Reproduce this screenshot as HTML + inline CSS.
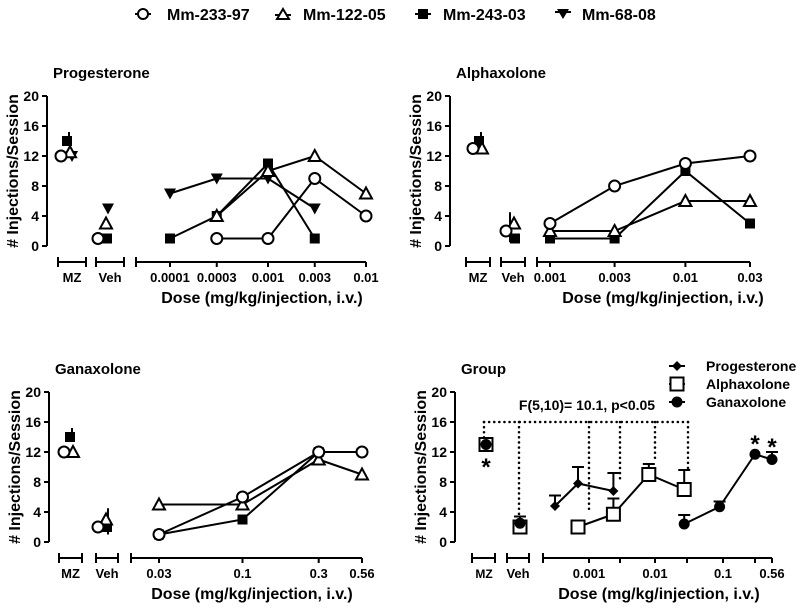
<!DOCTYPE html>
<html><head><meta charset="utf-8"><style>
html,body{margin:0;padding:0;background:#fff;}
svg{display:block;font-family:"Liberation Sans",Arial,sans-serif;font-weight:bold;}
</style></head><body>
<svg id="c" width="800" height="611" viewBox="0 0 800 611" xmlns="http://www.w3.org/2000/svg">
<g id="legend">
<g><line x1="135" y1="14" x2="151" y2="14" stroke="#000" stroke-width="2"/><circle cx="143" cy="14" r="5" fill="#fff" stroke="#000" stroke-width="2"/><text x="167" y="20" font-size="16">Mm-233-97</text></g>
<g><line x1="275" y1="15" x2="291" y2="15" stroke="#000" stroke-width="2"/><path d="M283,9 L289,19 L277,19Z" fill="#fff" stroke="#000" stroke-width="2"/><text x="303" y="20" font-size="16">Mm-122-05</text></g>
<g><line x1="415" y1="14" x2="431" y2="14" stroke="#000" stroke-width="2"/><rect x="418" y="9" width="10" height="10" fill="#000"/><text x="443" y="20" font-size="16">Mm-243-03</text></g>
<g><line x1="555" y1="12" x2="571" y2="12" stroke="#000" stroke-width="2"/><path d="M557,9 L569,9 L563,19Z" fill="#000"/><text x="582" y="20" font-size="16">Mm-68-08</text></g>
</g>
</svg>
<script>
// ---------- data ----------
const progDoses=[0.0001,0.0003,0.001,0.003,0.01];
const progDoseLabels=["0.0001","0.0003","0.001","0.003","0.01"];
const progCircle=[null,1,1,9,4];
const progTri=[null,4,10,12,7];
const progSquare=[1,4,11,1,null];
const progDown=[7,9,9,5,null];
const progMZ=[12,12.5,14,12];
const progVeh=[1,3,1,5];

const alphDoses=[0.001,0.003,0.01,0.03];
const alphDoseLabels=["0.001","0.003","0.01","0.03"];
const alphCircle=[3,8,11,12];
const alphTri=[2,2,6,6];
const alphSquare=[1,1,10,3];
const alphDown=[null,null,null,null];
const alphMZ=[13,13,14,null];
const alphVeh=[2,3,1,null];

const ganDoses=[0.03,0.1,0.3,0.56];
const ganDoseLabels=["0.03","0.1","0.3","0.56"];
const ganCircle=[1,6,12,12];
const ganTri=[5,5,11,9];
const ganSquare=[1,3,12,null];
const ganDown=[null,null,null,null];
const ganMZ=[12,12,14,null];
const ganVeh=[2,3,2,null];

const yTicks=[0,4,8,12,16,20];

// group panel (ordinal dose positions)
const groupTickLabels=["","0.001","","0.01","","0.1","","0.56"];
const grpProgIdx=[0.35,1,2];
const grpProgMean=[4.8,7.8,6.8];
const grpProgErr=[1.4,2.2,2.4];
const grpAlphIdx=[1,2,3,4];
const grpAlphMean=[2,3.7,9,7];
const grpAlphErr=[0,2.1,1.4,2.6];
const grpGanIdx=[4,5,6,6.5];
const grpGanMean=[2.4,4.7,11.7,11];
const grpGanErr=[1.2,0.7,0,1];
const grpMZ=[13,13];
const grpVeh=[2,2.5];
const grpVehErr=[0,0.9];

// ---------- drawing ----------
const svg=document.getElementById('c');
const NS='http://www.w3.org/2000/svg';
function el(tag,attrs,parent){const e=document.createElementNS(NS,tag);for(const k in attrs)e.setAttribute(k,attrs[k]);(parent||svg).appendChild(e);return e;}
function txt(x,y,s,size,anchor,parent){const t=el('text',{x:x,y:y,'font-size':size,'text-anchor':anchor||'start'},parent);t.textContent=s;return t;}
function marker(type,x,y,p){
  let m;
  if(type==='circle')m=el('circle',{cx:x,cy:y,r:5.5,fill:'#fff',stroke:'#000','stroke-width':2},p);
  else if(type==='tri')m=el('path',{d:`M${x},${y-6} L${x+6},${y+5} L${x-6},${y+5}Z`,fill:'#fff',stroke:'#000','stroke-width':2},p);
  else if(type==='square')m=el('rect',{x:x-5,y:y-5,width:10,height:10,fill:'#000'},p);
  else if(type==='down')m=el('path',{d:`M${x-6},${y-5} L${x+6},${y-5} L${x},${y+6}Z`,fill:'#000'},p);
  else if(type==='diamond')m=el('path',{d:`M${x},${y-5} L${x+5},${y} L${x},${y+5} L${x-5},${y}Z`,fill:'#000'},p);
  else if(type==='osquare')m=el('rect',{x:x-6.5,y:y-6.5,width:13,height:13,fill:'#fff',stroke:'#000','stroke-width':2},p);
  else if(type==='fcircle')m=el('circle',{cx:x,cy:y,r:5.5,fill:'#000'},p);
  
  
  return m;
}
function axisY(g,ax,y0,y1){
  const ys=v=>y0-(v/20)*(y0-y1);
  el('line',{x1:ax,y1:y1,x2:ax,y2:y0,stroke:'#000','stroke-width':2},g);
  yTicks.forEach(v=>{el('line',{x1:ax-5,y1:ys(v),x2:ax,y2:ys(v),stroke:'#000','stroke-width':2},g);txt(ax-8,ys(v)+5,String(v),14,'end',g);});
  const t=txt(0,0,'# Injections/Session',16,'middle',g);
  t.setAttribute('transform',`translate(${ax-29},${(y0+y1)/2}) rotate(-90)`);
  
  return ys;
}
function seg(g,a,b,y){el('line',{x1:a,y1:y,x2:b,y2:y,stroke:'#000','stroke-width':2},g);el('line',{x1:a,y1:y-5,x2:a,y2:y+5,stroke:'#000','stroke-width':2},g);el('line',{x1:b,y1:y-5,x2:b,y2:y+5,stroke:'#000','stroke-width':2},g);}

function indivPanel(cfg){
  const g=el('g',{});
  
  
  const tt=txt(cfg.ax+6,cfg.y1-18,cfg.title,15,'start',g);
  
  const ys=axisY(g,cfg.ax,cfg.y0,cfg.y1);
  const sy=cfg.y0+16;
  seg(g,cfg.mz[0],cfg.mz[1],sy);seg(g,cfg.veh[0],cfg.veh[1],sy);
  txt((cfg.mz[0]+cfg.mz[1])/2,sy+20,'MZ',13,'middle',g);
  txt((cfg.veh[0]+cfg.veh[1])/2,sy+20,'Veh',13,'middle',g);
  const lmin=Math.log10(cfg.doses[0]),lmax=Math.log10(cfg.doses[cfg.doses.length-1]);
  const xs=d=>cfg.dx0+(Math.log10(d)-lmin)/(lmax-lmin)*(cfg.dx1-cfg.dx0);
  el('line',{x1:cfg.dstart,y1:sy,x2:cfg.dx1,y2:sy,stroke:'#000','stroke-width':2},g);
  el('line',{x1:cfg.dstart,y1:sy-5,x2:cfg.dstart,y2:sy+5,stroke:'#000','stroke-width':2},g);
  cfg.doses.forEach((d,i)=>{el('line',{x1:xs(d),y1:sy,x2:xs(d),y2:sy+5,stroke:'#000','stroke-width':2},g);txt(xs(d),sy+20,cfg.labels[i],13,'middle',g);});
  const xt=txt(cfg.xtitle,sy+41,'Dose (mg/kg/injection, i.v.)',16,'middle',g);
  
  const types=['circle','tri','square','down'];
  const mzOff=[-5,4,1,6],vehOff=[-4,4,5,6];
  if(cfg.mzv[2]!=null)el('line',{x1:cfg.mzx+mzOff[2]+2,y1:ys(cfg.mzv[2]),x2:cfg.mzx+mzOff[2]+2,y2:ys(cfg.mzv[2]+1.2),stroke:'#000','stroke-width':2},g);
  if(cfg.vehErr)el('line',{x1:cfg.vehx+cfg.vehErr[0],y1:ys(cfg.vehErr[1]),x2:cfg.vehx+cfg.vehErr[0],y2:ys(cfg.vehErr[2]),stroke:'#000','stroke-width':2},g);
  [3,2,1,0].forEach(s=>{
    const series=cfg.series[s];
    let pts=[];series.forEach((v,i)=>{if(v!=null)pts.push([xs(cfg.doses[i]),ys(v)]);});
    if(pts.length>1){const pl=el('polyline',{points:pts.map(p=>p.join(',')).join(' '),fill:'none',stroke:'#000','stroke-width':2},g);}
  });
  [3,2,1,0].forEach(s=>{
    cfg.series[s].forEach((v,i)=>{if(v!=null)marker(types[s],xs(cfg.doses[i]),ys(v),g);});
    if(cfg.mzv[s]!=null)marker(types[s],cfg.mzx+mzOff[s],ys(cfg.mzv[s]),g);
    if(cfg.vehv[s]!=null)marker(types[s],cfg.vehx+vehOff[s],ys(cfg.vehv[s]),g);
  });
}

indivPanel({name:'progesterone-panel',title:'Progesterone',ax:47,y0:246,y1:96,mz:[58,86],veh:[96,124],dstart:136,dx0:170,dx1:366,
  doses:progDoses,labels:progDoseLabels,series:[progCircle,progTri,progSquare,progDown],mzv:progMZ,vehv:progVeh,mzx:66,vehx:102,xtitle:262});
indivPanel({name:'alphaxolone-panel',title:'Alphaxolone',ax:450,y0:246,y1:96,mz:[466,490],veh:[501,525],dstart:537,dx0:550,dx1:750,
  doses:alphDoses,labels:alphDoseLabels,series:[alphCircle,alphTri,alphSquare,alphDown],mzv:alphMZ,vehv:alphVeh,mzx:478,vehx:510,xtitle:663,vehErr:[0,0.5,4.5]});
indivPanel({name:'ganaxolone-panel',title:'Ganaxolone',ax:49,y0:542,y1:392,mz:[59,82],veh:[96,118],dstart:131,dx0:159,dx1:362,
  doses:ganDoses,labels:ganDoseLabels,series:[ganCircle,ganTri,ganSquare,ganDown],mzv:ganMZ,vehv:ganVeh,mzx:69,vehx:102,xtitle:252,vehErr:[6,1,4.5]});

// group panel
(function(){
  const g=el('g',{});
  
  
  const ax=455,y0=542,y1=392;
  const tt=txt(ax+6,y1-18,'Group',15,'start',g);
  
  const ys=axisY(g,ax,y0,y1);
  const sy=y0+16;
  seg(g,472,495,sy);seg(g,507,529,sy);
  txt(484,sy+20,'MZ',12,'middle',g);txt(518,sy+20,'Veh',13,'middle',g);
  const xs=i=>i<=6?555+(i-0.35)*((755-555)/(6-0.35)):755+(i-6)*34;
  el('line',{x1:543,y1:sy,x2:772,y2:sy,stroke:'#000','stroke-width':2},g);
  el('line',{x1:543,y1:sy-5,x2:543,y2:sy+5,stroke:'#000','stroke-width':2},g);
  const tickX=[543,589,620,655,687,723,755,772];
  groupTickLabels.forEach((l,i)=>{if(i>0)el('line',{x1:tickX[i],y1:sy,x2:tickX[i],y2:sy+5,stroke:'#000','stroke-width':2},g);if(l)txt(tickX[i],sy+20,l,13,'middle',g);});
  const xt=txt(659,sy+41,'Dose (mg/kg/injection, i.v.)',16,'middle',g);
  
  const dots={stroke:'#000','stroke-width':2.5,'stroke-dasharray':'0.1,5','stroke-linecap':'round'};
  el('line',Object.assign({x1:484,y1:ys(16),x2:688,y2:ys(16)},dots),g);
  [[484,13.8],[519,3.6],[589,4],[620,8.5],[655,10.6],[688,9.8]].forEach(d=>el('line',Object.assign({x1:d[0],y1:ys(16),x2:d[0],y2:ys(d[1])},dots),g));
  const an=txt(587,410,'F(5,10)= 10.1, p<0.05',14,'middle',g);
  
  function series(idx,mean,err,type,name){
    const xsTrue=idx.map(v=>xs(v));
    mean.forEach((m,i)=>{if(err[i]>0){el('line',{x1:xsTrue[i],y1:ys(m),x2:xsTrue[i],y2:ys(m+err[i]),stroke:'#000','stroke-width':2},g);el('line',{x1:xsTrue[i]-6,y1:ys(m+err[i]),x2:xsTrue[i]+6,y2:ys(m+err[i]),stroke:'#000','stroke-width':2},g);}});
    const pl=el('polyline',{points:mean.map((m,i)=>xsTrue[i]+','+ys(m)).join(' '),fill:'none',stroke:'#000','stroke-width':2},g);
    
    mean.forEach((m,i)=>marker(type,xsTrue[i],ys(m),g));
  }
  series(grpProgIdx,grpProgMean,grpProgErr,'diamond','progesterone-line');
  series(grpAlphIdx,grpAlphMean,grpAlphErr,'osquare','alphaxolone-line');
  series(grpGanIdx,grpGanMean,grpGanErr,'fcircle','ganaxolone-line');
  marker('osquare',486,ys(grpMZ[0]),g);marker('fcircle',486,ys(grpMZ[1]),g);
  el('line',{x1:520,y1:ys(grpVeh[1]),x2:520,y2:ys(grpVeh[1]+grpVehErr[1]),stroke:'#000','stroke-width':2},g);
  el('line',{x1:514,y1:ys(grpVeh[1]+grpVehErr[1]),x2:526,y2:ys(grpVeh[1]+grpVehErr[1]),stroke:'#000','stroke-width':2},g);
  marker('osquare',520,ys(grpVeh[0]),g);marker('fcircle',520,ys(grpVeh[1]),g);
  txt(486,475,'*',24,'middle',g);
  txt(xs(6),452,'*',24,'middle',g);txt(xs(6.5),455,'*',24,'middle',g);
  const lg=el('g',{},g);
  
  [['diamond','Progesterone',366],['osquare','Alphaxolone',384],['fcircle','Ganaxolone',402]].forEach(e=>{
    el('line',{x1:669,y1:e[2],x2:685,y2:e[2],stroke:'#000','stroke-width':2},lg);
    marker(e[0],677,e[2],lg);
    txt(706,e[2]+5,e[1],14,'start',lg);
  });
})();
</script>
</body></html>
